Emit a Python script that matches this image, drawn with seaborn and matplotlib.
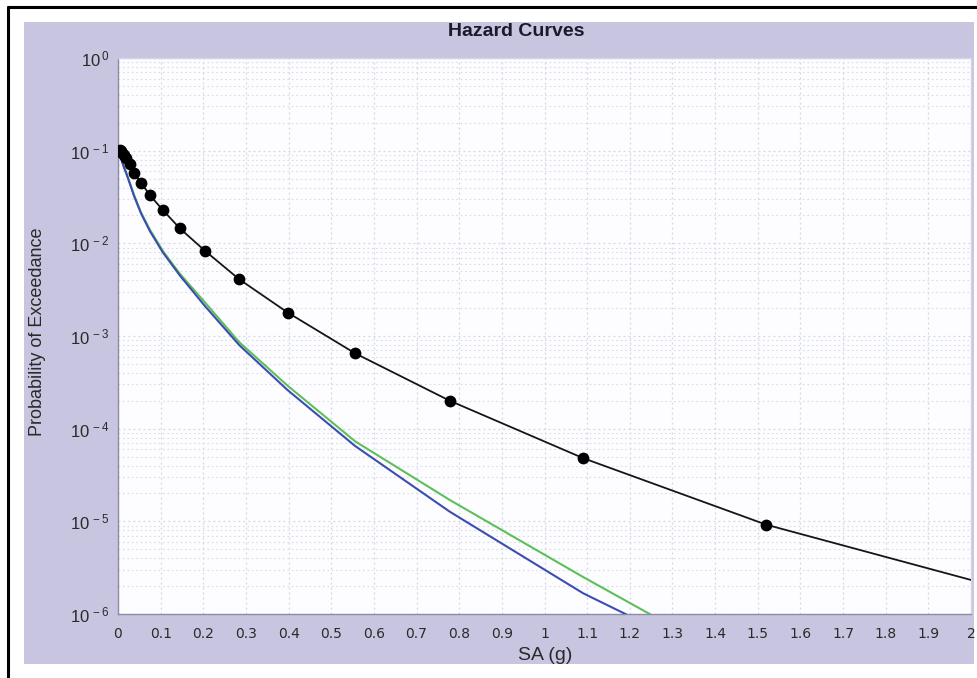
import matplotlib
matplotlib.use("Agg")
import matplotlib.pyplot as plt
from matplotlib.lines import Line2D
from matplotlib.patches import Rectangle
from matplotlib.ticker import FixedLocator, FixedFormatter, NullFormatter
import numpy as np
import pandas as pd
import seaborn as sns

# ---------------- data ----------------
sa_points = [0.005, 0.007, 0.0098, 0.0138, 0.0193, 0.027, 0.038, 0.054, 0.075,
             0.105, 0.145, 0.204, 0.284, 0.398, 0.556, 0.778, 1.091, 1.52]
black_poe = [0.102, 0.098, 0.094, 0.089, 0.083, 0.072, 0.057, 0.045, 0.033,
             0.0229, 0.0145, 0.0083, 0.0041, 0.00179, 0.00065, 2.0e-4, 4.8e-5, 9.2e-6]
black_end_sa = [2.0]
black_end_poe = [2.33e-6]
blue_poe = [0.088, 0.082, 0.075, 0.066, 0.057, 0.045, 0.032, 0.021, 0.0135,
            0.0080, 0.0045, 0.0021, 8.0e-4, 2.6e-4, 6.5e-5, 1.27e-5, 1.67e-6, 1.8e-7]
green_poe = [0.090, 0.084, 0.077, 0.068, 0.058, 0.046, 0.033, 0.0215, 0.014,
             0.0083, 0.0047, 0.0023, 8.6e-4, 2.9e-4, 7.3e-5, 1.7e-5, 2.5e-6, 2.0e-7]

x_ticks = [0, 0.1, 0.2, 0.3, 0.4, 0.5, 0.6, 0.7, 0.8, 0.9, 1, 1.1, 1.2, 1.3,
           1.4, 1.5, 1.6, 1.7, 1.8, 1.9, 2]
x_tick_labels = ["0", "0.1", "0.2", "0.3", "0.4", "0.5", "0.6", "0.7", "0.8", "0.9",
                 "1", "1.1", "1.2", "1.3", "1.4", "1.5", "1.6", "1.7", "1.8", "1.9", "2"]
y_exponents = [-6, -5, -4, -3, -2, -1, 0]

title = "Hazard Curves"
x_label = "SA (g)"
y_label = "Probability of Exceedance"

# ---------------- build tables ----------------
lines_df = pd.concat([
    pd.DataFrame({"SA": sa_points, "PoE": green_poe, "curve": "green"}),
    pd.DataFrame({"SA": sa_points, "PoE": blue_poe, "curve": "blue"}),
    pd.DataFrame({"SA": sa_points + black_end_sa, "PoE": black_poe + black_end_poe,
                  "curve": "black"}),
], ignore_index=True)
dots_df = pd.DataFrame({"SA": sa_points, "PoE": black_poe})

# ---------------- style ----------------
sns.set_style("white")
plt.rcParams["font.family"] = ["Liberation Sans", "DejaVu Sans"]
plt.rcParams["mathtext.fontset"] = "dejavusans"
plt.rcParams["mathtext.default"] = "regular"

W, H = 977, 678
fig = plt.figure(figsize=(W / 100, H / 100), dpi=100, facecolor="white")

# lavender panel
fig.patches.append(Rectangle((24 / W, 1 - 664 / H), 950 / W, 642 / H,
                             transform=fig.transFigure, facecolor="#c8c5e1",
                             edgecolor="none", zorder=0))
# black frame (partially cropped)
fig.add_artist(Line2D([8 / W, 8 / W], [0, 1 - 7 / H], transform=fig.transFigure,
                      color="black", lw=2.2))
fig.add_artist(Line2D([8 / W, 1], [1 - 7 / H, 1 - 7 / H], transform=fig.transFigure,
                      color="black", lw=2.2))

ax = fig.add_axes([118 / W, 1 - 614 / H, (971 - 118) / W, (614 - 58) / H])
ax.set_facecolor("#fdfdff")
ax.set_zorder(2)

palette = {"green": "#5cc05a", "blue": "#3c4db2", "black": "#151515"}
sizes = {"green": 1.5, "blue": 1.5, "black": 1.3}
sns.lineplot(data=lines_df, x="SA", y="PoE", hue="curve", palette=palette,
             size="curve", sizes=sizes, estimator=None, sort=False,
             legend=False, ax=ax, zorder=3)
sns.scatterplot(data=dots_df, x="SA", y="PoE", color="black", s=72,
                edgecolor="black", linewidth=0, legend=False, ax=ax, zorder=4)

ax.set_yscale("log")
ax.set_xlim(0, 2)
ax.set_ylim(1e-6, 1)

# ticks
ax.xaxis.set_major_locator(FixedLocator(x_ticks))
ax.xaxis.set_major_formatter(FixedFormatter(x_tick_labels))
y_major = [10.0 ** e for e in y_exponents]
ax.yaxis.set_major_locator(FixedLocator(y_major))
ax.yaxis.set_major_formatter(FixedFormatter(
    [r"$\mathregular{10^{\,%d}}$" % e for e in y_exponents]))
minor = [m * 10.0 ** e for e in y_exponents[:-1] for m in range(2, 10)]
ax.yaxis.set_minor_locator(FixedLocator(minor))
ax.yaxis.set_minor_formatter(NullFormatter())
ax.tick_params(axis="both", which="both", length=0)
ax.tick_params(axis="x", labelsize=10, pad=9, colors="#2a2a2a")
ax.tick_params(axis="y", labelsize=12, pad=6, colors="#2a2a2a")
for lab in ax.get_xticklabels():
    lab.set_family("DejaVu Sans")

# grid
ax.grid(True, which="major", axis="x", color="#cfd6e6", linestyle=(0, (1.5, 2.5)), lw=0.9)
ax.grid(True, which="major", axis="y", color="#cfd6e6", linestyle=(0, (1.5, 2.5)), lw=0.9)
ax.grid(True, which="minor", axis="y", color="#d8dcea", linestyle=(0, (1.5, 2.5)), lw=0.8)
ax.set_axisbelow(True)

for side in ["left", "bottom"]:
    ax.spines[side].set_color("#8c8ca4")
    ax.spines[side].set_linewidth(1.0)
for side in ["top", "right"]:
    ax.spines[side].set_color("#d4d4e6")
    ax.spines[side].set_linewidth(1.0)

ax.set_xlabel("")
ax.set_ylabel("")
fig.text(545 / W, 1 - 655 / H, x_label, ha="center", va="center",
         fontsize=14, color="#2a2a2a")
fig.text(38 / W, 1 - 332 / H, y_label, ha="center", va="center",
         rotation=90, fontsize=13, color="#2a2a2a")
fig.text(516 / W, 1 - 31 / H, title, ha="center", va="center",
         fontsize=14, fontweight="bold", color="#1a1a2a")

fig.savefig("out.png", dpi=100, facecolor="white")
